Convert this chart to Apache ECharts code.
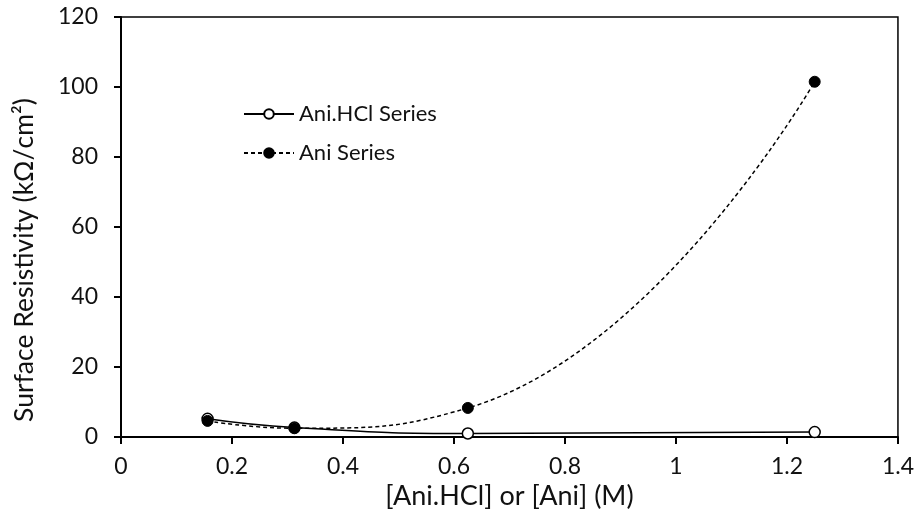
<!DOCTYPE html>
<html><head><meta charset="utf-8">
<script src="https://cdn.jsdelivr.net/npm/echarts@6/dist/echarts.min.js"></script>
<style>html,body{margin:0;padding:0;background:#fff}#c{width:917px;height:527px}</style>
</head><body><div id="c"></div>
<script>
const concentrations = [0.156, 0.3125, 0.625, 1.25];
const aniHClValues = [5.2, 2.7, 1.0, 1.4];
const aniValues = [4.6, 2.5, 8.3, 101.5];
const seriesNames = ['Ani.HCl Series', 'Ani Series'];
const xTitle = '[Ani.HCl] or [Ani] (M)';
const yTitle = 'Surface Resistivity (kΩ/cm²)';

const pairs = (xs, ys) => xs.map((x, i) => [x, ys[i]]);
const font = 'Lato, "Open Sans", sans-serif';
const chart = echarts.init(document.getElementById('c'));
chart.setOption({
  animation: false,
  grid: {left: 121, right: 17, top: 17, bottom: 90, show: true, borderColor: '#000', borderWidth: 1.5},
  legend: {
    orient: 'vertical', left: 238, top: 98, itemWidth: 50, itemHeight: 12, itemGap: 17,
    textStyle: {fontFamily: font, fontSize: 22, color: '#111'},
    data: seriesNames
  },
  xAxis: {
    type: 'value', min: 0, max: 1.4, interval: 0.2,
    name: xTitle, nameLocation: 'middle', nameGap: 45,
    nameTextStyle: {fontFamily: font, fontSize: 27, color: '#111'},
    axisLine: {show: true, onZero: false, lineStyle: {color: '#000', width: 2}},
    axisTick: {show: true, length: 7, lineStyle: {color: '#000', width: 2}},
    axisLabel: {fontFamily: font, fontSize: 23, color: '#111', margin: 18},
    splitLine: {show: false}
  },
  yAxis: {
    type: 'value', min: 0, max: 120, interval: 20,
    name: yTitle, nameLocation: 'middle', nameGap: 83,
    nameTextStyle: {fontFamily: font, fontSize: 26.5, color: '#111', padding: [0, 66, 0, 0]},
    axisLine: {show: true, lineStyle: {color: '#000', width: 2}},
    axisTick: {show: true, length: 7, lineStyle: {color: '#000', width: 2}},
    axisLabel: {fontFamily: font, fontSize: 23, color: '#111', margin: 23},
    splitLine: {show: false}
  },
  series: [
    {
      name: seriesNames[0], type: 'line', data: pairs(concentrations, aniHClValues),
      smooth: 0.5, symbol: 'circle', symbolSize: 11,
      itemStyle: {color: '#fff', borderColor: '#000', borderWidth: 1.5},
      lineStyle: {color: '#000', width: 1.5, type: 'solid'}, z: 2
    },
    {
      name: seriesNames[1], type: 'line', data: pairs(concentrations, aniValues),
      smooth: 0.5, symbol: 'circle', symbolSize: 11,
      itemStyle: {color: '#000', borderColor: '#000', borderWidth: 1},
      lineStyle: {color: '#000', width: 1.5, type: [4, 3]}, z: 3
    }
  ]
});
</script></body></html>
